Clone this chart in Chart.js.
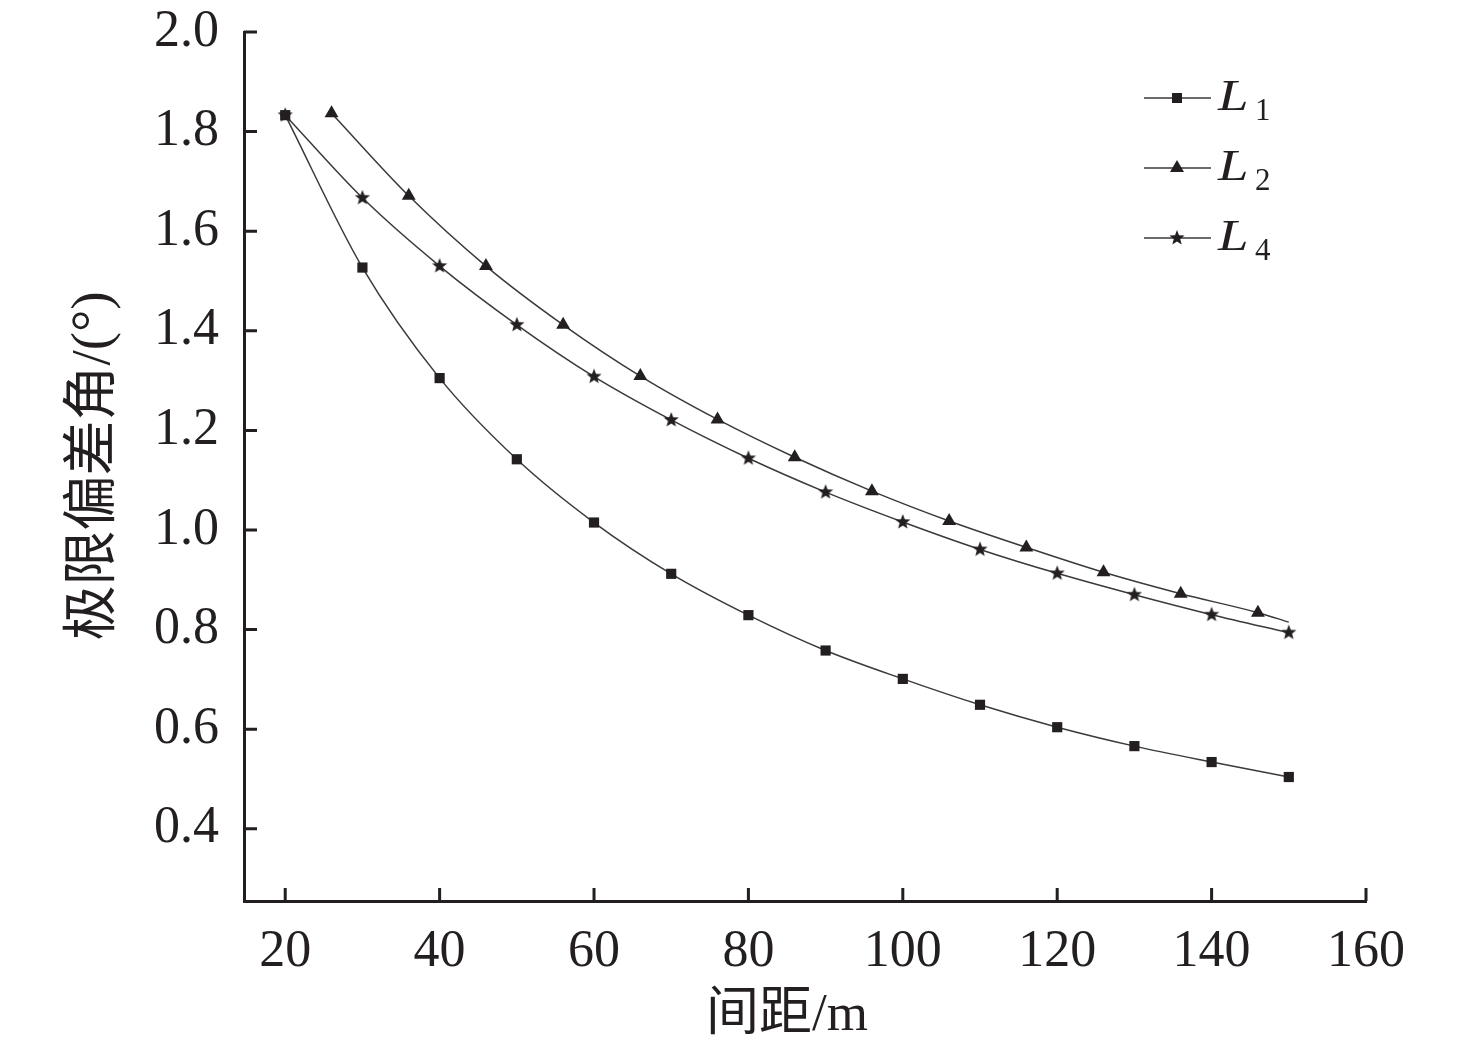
<!DOCTYPE html>
<html>
<head>
<meta charset="utf-8">
<script src="https://cdn.jsdelivr.net/npm/chart.js@4.4.1/dist/chart.umd.min.js"></script>
<style>
  html, body { margin: 0; padding: 0; background: #fff; }
  #wrap { width: 1476px; height: 1053px; position: relative; }
</style>
</head>
<body>
<div id="wrap"><canvas id="chart"></canvas></div>
<script>
// data
const xL1 = [20, 30, 40, 50, 60, 70, 80, 90, 100, 110, 120, 130, 140, 150];
const yL1 = [1.833, 1.527, 1.305, 1.142, 1.015, 0.912, 0.829, 0.758, 0.701, 0.649, 0.604, 0.566, 0.534, 0.504];
const xL2 = [26, 36, 46, 56, 66, 76, 86, 96, 106, 116, 126, 136, 146, 150];
const yL2 = [1.837, 1.671, 1.530, 1.412, 1.309, 1.222, 1.146, 1.078, 1.018, 0.965, 0.915, 0.872, 0.834, 0.815];
const xL4 = [20, 30, 40, 50, 60, 70, 80, 90, 100, 110, 120, 130, 140, 150];
const yL4 = [1.833, 1.667, 1.530, 1.412, 1.308, 1.221, 1.144, 1.076, 1.016, 0.961, 0.913, 0.870, 0.830, 0.794];
const seriesNames = ["1", "2", "4"]; // subscripts of L
const xTicks = [20, 40, 60, 80, 100, 120, 140, 160];
const yTicks = [0.4, 0.6, 0.8, 1.0, 1.2, 1.4, 1.6, 1.8, 2.0];
const xTitle = "间距/m";
const yTitle = "极限偏差角/(°)";

const ink = "#231f20";
const lineCol = "#3a3a3a";
const numFont = "'Liberation Serif', 'Times New Roman', serif";
const cjkFont = "'Liberation Serif', 'Noto Sans CJK SC', serif";

// filled five point star used as point style
const makeStar = (outer, inner) => {
  const c = document.createElement("canvas");
  const s = Math.ceil(outer * 2 + 2);
  c.width = s;
  c.height = s;
  const g = c.getContext("2d");
  g.fillStyle = ink;
  g.beginPath();
  for (let i = 0; i < 10; i++) {
    const r = i % 2 === 0 ? outer : inner;
    const a = -Math.PI / 2 + (i * Math.PI) / 5;
    g.lineTo(s / 2 + r * Math.cos(a), s / 2 + r * Math.sin(a));
  }
  g.closePath();
  g.fill();
  return c;
};
const starImg = makeStar(8, 3.4);

const toPoints = (xs, ys) => xs.map((x, i) => ({ x: x, y: ys[i] }));

// ticks drawn inside the axes, titles and legend
const decorPlugin = {
  id: "decor",
  afterDraw(chart) {
    const ctx = chart.ctx;
    const xs = chart.scales.x;
    const ys = chart.scales.y;
    const area = chart.chartArea;
    ctx.save();
    ctx.strokeStyle = ink;
    ctx.lineWidth = 3;
    ctx.beginPath();
    xTicks.forEach((v) => {
      const px = xs.getPixelForValue(v);
      ctx.moveTo(px, area.bottom);
      ctx.lineTo(px, area.bottom - 13);
    });
    yTicks.forEach((v) => {
      const py = ys.getPixelForValue(v);
      ctx.moveTo(area.left, py);
      ctx.lineTo(area.left + 13, py);
    });
    ctx.stroke();

    // axis titles
    ctx.fillStyle = ink;
    ctx.textAlign = "center";
    ctx.textBaseline = "middle";
    ctx.font = "53px " + cjkFont;
    ctx.fillText(xTitle, 787, 1016);
    ctx.save();
    ctx.translate(95, 466);
    ctx.rotate(-Math.PI / 2);
    ctx.font = "55px " + cjkFont;
    ctx.fillText(yTitle, 0, 0);
    ctx.restore();

    // legend
    const rows = [98, 168, 238];
    rows.forEach((ly, i) => {
      ctx.strokeStyle = lineCol;
      ctx.lineWidth = 1.5;
      ctx.beginPath();
      ctx.moveTo(1144, ly);
      ctx.lineTo(1211, ly);
      ctx.stroke();
      const mx = 1177;
      ctx.fillStyle = ink;
      if (i === 0) {
        ctx.fillRect(mx - 5, ly - 5, 10, 10);
      } else if (i === 1) {
        ctx.beginPath();
        ctx.moveTo(mx, ly - 8);
        ctx.lineTo(mx + 7, ly + 4);
        ctx.lineTo(mx - 7, ly + 4);
        ctx.closePath();
        ctx.fill();
      } else {
        ctx.drawImage(starImg, mx - starImg.width / 2, ly - starImg.height / 2);
      }
      ctx.textAlign = "left";
      ctx.textBaseline = "alphabetic";
      ctx.save();
      ctx.translate(1218, ly + 12);
      ctx.scale(1.22, 1);
      ctx.font = "italic 45px " + numFont;
      ctx.fillText("L", 0, 0);
      ctx.restore();
      ctx.font = "31px " + numFont;
      ctx.fillText(seriesNames[i], 1255, ly + 22);
    });
    ctx.restore();
  },
};

const baseSet = {
  showLine: true,
  borderColor: lineCol,
  borderWidth: 1.5,
  backgroundColor: ink,
  pointBackgroundColor: ink,
  pointBorderWidth: 0,
  tension: 0.4,
  cubicInterpolationMode: "monotone",
};

new Chart(document.getElementById("chart"), {
  type: "scatter",
  data: {
    datasets: [
      Object.assign({}, baseSet, {
        label: "L1",
        data: toPoints(xL1, yL1),
        pointStyle: "rect",
        pointRadius: 7.2,
      }),
      Object.assign({}, baseSet, {
        label: "L2",
        data: toPoints(xL2, yL2),
        pointStyle: "triangle",
        pointRadius: xL2.map((x, i) => (i === xL2.length - 1 ? 0 : 8)),
      }),
      Object.assign({}, baseSet, {
        label: "L4",
        data: toPoints(xL4, yL4),
        pointStyle: starImg,
        pointRadius: 8,
      }),
    ],
  },
  options: {
    responsive: true,
    maintainAspectRatio: false,
    animation: false,
    layout: { padding: { top: 32, right: 110, left: 0, bottom: 0 } },
    plugins: {
      legend: { display: false },
      tooltip: { enabled: false },
    },
    scales: {
      x: {
        type: "linear",
        min: 14.66,
        max: 160,
        grid: { display: false },
        border: { display: true, color: ink, width: 3 },
        afterBuildTicks: (scale) => {
          scale.ticks = xTicks.map((v) => ({ value: v }));
        },
        afterFit: (scale) => {
          scale.height = 152;
          scale.paddingLeft = 0;
          scale.paddingRight = 0;
        },
        ticks: {
          color: ink,
          padding: 12,
          maxRotation: 0,
          autoSkip: false,
          font: { family: numFont, size: 52 },
          callback: (v) => String(v),
        },
      },
      y: {
        type: "linear",
        min: 0.255,
        max: 2.0,
        grid: { display: false },
        border: { display: true, color: ink, width: 3 },
        afterBuildTicks: (scale) => {
          scale.ticks = yTicks.map((v) => ({ value: v }));
        },
        afterFit: (scale) => {
          scale.width = 244;
          scale.paddingTop = 0;
          scale.paddingBottom = 0;
        },
        ticks: {
          color: ink,
          padding: 17,
          autoSkip: false,
          font: { family: numFont, size: 52 },
          callback: (v) => Number(v).toFixed(1),
        },
      },
    },
  },
  plugins: [decorPlugin],
});
</script>
</body>
</html>
